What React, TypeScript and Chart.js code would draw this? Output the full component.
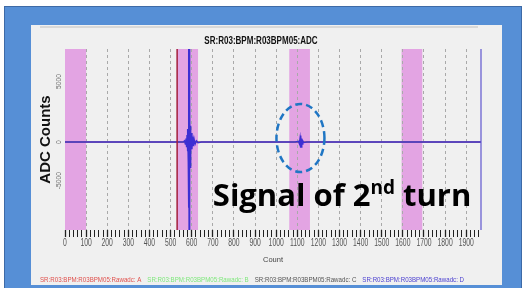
import { useEffect, useRef } from 'react';
import { Chart, registerables } from 'chart.js';

Chart.register(...registerables);

const SANS = "'Liberation Sans', Arial, sans-serif";
const NOTE_FONT = "'Open Sans', 'Liberation Sans', sans-serif";

// ---- data ----
const chartTitle = 'SR:R03:BPM:R03BPM05:ADC';
const xAxisTitle = 'Count';
const yAxisTitle = 'ADC Counts';
const xRange = [0, 1970];
const yRange = [-8700, 9200];
const xLabelStep = 100;
const yLabelValues = [5000, 0, -5000];

const seriesNames = [
  'SR:R03:BPM:R03BPM05:Rawadc: A',
  'SR:R03:BPM:R03BPM05:Rawadc: B',
  'SR:R03:BPM:R03BPM05:Rawadc: C',
  'SR:R03:BPM:R03BPM05:Rawadc: D',
];
const seriesColors = ['#e0504c', '#86ec84', '#5a5a5a', '#3d2fd3'];
const legendColors = ['#e0504c', '#7fe87c', '#555555', '#4a3fd0'];

const rawAx = [0, 1970];
const rawAy = [0, 0];
const rawBx = [0, 1970];
const rawBy = [0, 0];
const rawCx = [0, 1970];
const rawCy = [0, 0];
const rawDx = [0, 500, 560, 566, 570, 573, 576, 578, 580, 582, 584, 585, 586, 587, 588, 589, 590, 591, 592, 594, 596, 598, 601, 604, 607, 611, 616, 622, 630, 645, 1090, 1106, 1110, 1113, 1115, 1117, 1119, 1121, 1123, 1126, 1130, 1145, 1970];
const rawDy = [0, 0, 0, 120, -200, 350, -500, 700, -900, 1300, -2000, 3500, -6500, 9800, -9800, 9600, -7000, 4200, -2500, 1600, -1200, 900, -700, 550, -400, 300, -200, 120, -60, 0, 0, 60, -150, 320, -550, 650, -500, 350, -200, 100, -40, 0, 0];

const gateWindows = [
  [0, 100],
  [530, 630],
  [1062, 1160],
  [1594, 1692],
];
const triggerMarks = [531];
const highlight = { x: 1115, y: 400 };
const noteAnchor = { x: 700, y: -6300 };
const noteMain = 'Signal of 2';
const noteSup = 'nd';
const noteTail = ' turn';

const seriesX = [rawAx, rawBx, rawCx, rawDx];
const seriesY = [rawAy, rawBy, rawCy, rawDy];

function condensedText(ctx: CanvasRenderingContext2D, text: string, x: number, y: number, sx: number) {
  ctx.save();
  ctx.translate(x, y);
  ctx.scale(sx, 1);
  ctx.fillText(text, 0, 0);
  ctx.restore();
  return ctx.measureText(text).width * sx;
}

const overlayPlugin = {
  id: 'overlay',
  beforeDraw(chart: any) {
    const { ctx, chartArea: a, scales } = chart;
    const x = scales.x;
    ctx.save();
    ctx.fillStyle = '#e3a4e3';
    for (const [s, e] of gateWindows) {
      const x0 = x.getPixelForValue(s);
      const x1 = x.getPixelForValue(e);
      ctx.fillRect(x0, a.top, x1 - x0, a.bottom - a.top);
    }
    ctx.restore();
  },
  afterDatasetsDraw(chart: any) {
    const { ctx, chartArea: a, scales } = chart;
    const x = scales.x;
    const y = scales.y;
    ctx.save();
    ctx.strokeStyle = '#a3203c';
    ctx.lineWidth = 1.5;
    for (const t of triggerMarks) {
      const px = x.getPixelForValue(t);
      ctx.beginPath();
      ctx.moveTo(px, a.top);
      ctx.lineTo(px, a.bottom);
      ctx.stroke();
    }
    ctx.strokeStyle = '#5f56cf';
    ctx.lineWidth = 1.2;
    ctx.beginPath();
    ctx.moveTo(a.right, a.top);
    ctx.lineTo(a.right, a.bottom);
    ctx.stroke();

    // y tick labels (rotated)
    ctx.fillStyle = '#666';
    ctx.font = `6.8px ${SANS}`;
    ctx.textAlign = 'center';
    ctx.textBaseline = 'middle';
    for (const v of yLabelValues) {
      const py = y.getPixelForValue(v);
      const t = String(v);
      const w = ctx.measureText(t).width;
      ctx.save();
      ctx.translate(a.left - 5.5, py - Math.max(0, w - 4) * 0.9);
      ctx.rotate(-Math.PI / 2);
      ctx.fillText(t, 0, 0);
      ctx.restore();
    }

    // x tick labels (condensed)
    ctx.fillStyle = '#555';
    ctx.font = `10px ${SANS}`;
    ctx.textAlign = 'left';
    ctx.textBaseline = 'middle';
    for (const tk of x.ticks) {
      if (tk.value % xLabelStep !== 0) continue;
      const t = String(tk.value);
      const w = ctx.measureText(t).width * 0.68;
      condensedText(ctx, t, x.getPixelForValue(tk.value) - w / 2, a.bottom + 13, 0.68);
    }
    ctx.restore();
  },
  afterDraw(chart: any) {
    const { ctx, chartArea: a, scales } = chart;
    const x = scales.x;
    const y = scales.y;
    ctx.save();
    // chart title (condensed bold)
    ctx.fillStyle = '#111';
    ctx.font = `bold 11px ${SANS}`;
    ctx.textAlign = 'left';
    ctx.textBaseline = 'middle';
    const tw = ctx.measureText(chartTitle).width * 0.73;
    condensedText(ctx, chartTitle, (a.left + a.right) / 2 - 12 - tw / 2, a.top - 8, 0.73);

    // highlight ellipse
    ctx.strokeStyle = '#1f76c4';
    ctx.lineWidth = 2.5;
    ctx.setLineDash([7, 4]);
    ctx.beginPath();
    ctx.ellipse(x.getPixelForValue(highlight.x), y.getPixelForValue(highlight.y), 24, 34, 0, 0, Math.PI * 2);
    ctx.stroke();
    ctx.setLineDash([]);

    // annotation text
    const ax = x.getPixelForValue(noteAnchor.x);
    const ay = y.getPixelForValue(noteAnchor.y);
    ctx.fillStyle = '#000';
    ctx.textAlign = 'left';
    ctx.textBaseline = 'alphabetic';
    ctx.font = `bold 31px ${NOTE_FONT}`;
    ctx.fillText(noteMain, ax, ay);
    let cx = ax + ctx.measureText(noteMain).width;
    ctx.font = `bold 19px ${NOTE_FONT}`;
    ctx.fillText(noteSup, cx, ay - 12);
    cx += ctx.measureText(noteSup).width;
    ctx.font = `bold 31px ${NOTE_FONT}`;
    ctx.fillText(noteTail, cx, ay);

    // legend (coloured text only, condensed)
    ctx.font = `8px ${SANS}`;
    ctx.textBaseline = 'middle';
    let lx = a.left - 25;
    const ly = chart.height - 8.5;
    chart.data.datasets.forEach((ds: any, i: number) => {
      ctx.fillStyle = legendColors[i];
      lx += condensedText(ctx, ds.label, lx, ly, 0.77) + 6;
    });
    ctx.restore();
  },
};

export default function App() {
  const ref = useRef<HTMLCanvasElement>(null);
  useEffect(() => {
    const datasets = seriesNames.map((name, i) => ({
      label: name,
      data: seriesX[i].map((xv, j) => ({ x: xv, y: seriesY[i][j] })),
      borderColor: seriesColors[i],
      borderWidth: i === 3 ? 1.5 : 1,
      pointRadius: 0,
      order: i === 3 ? 0 : 1,
      tension: 0,
    }));
    const chart = new Chart(ref.current as HTMLCanvasElement, {
      type: 'line',
      data: { datasets },
      options: {
        animation: false,
        responsive: false,
        devicePixelRatio: 1,
        layout: { padding: { left: 41, right: 45, top: 49, bottom: 17 } },
        plugins: {
          legend: { display: false },
          tooltip: { enabled: false },
          title: { display: false },
        },
        scales: {
          x: {
            type: 'linear',
            min: xRange[0],
            max: xRange[1],
            afterFit: (s: any) => {
              s.height = 41;
            },
            ticks: {
              display: false,
              stepSize: 20,
              includeBounds: false,
              autoSkip: false,
              maxRotation: 0,
              minRotation: 0,
            },
            grid: {
              color: (c: any) => (c.tick && c.tick.value % 100 === 0 && c.tick.value !== 0 ? '#a9a9a9' : 'rgba(0,0,0,0)'),
              tickColor: '#222',
              tickLength: 7,
              tickWidth: (c: any) => (c.tick && c.tick.value % 100 === 0 ? 1.3 : 1),
              tickBorderDash: [],
              lineWidth: 1,
            },
            border: { display: false, dash: [3, 3] },
            title: {
              display: true,
              text: xAxisTitle,
              color: '#444',
              font: { family: SANS, size: 7.5 },
              padding: { top: 0, bottom: 6.7 },
            },
          },
          y: {
            type: 'linear',
            min: yRange[0],
            max: yRange[1],
            afterFit: (s: any) => {
              s.width = 24;
            },
            ticks: { display: false, stepSize: 1000, includeBounds: false },
            grid: {
              color: (c: any) => (c.tick && c.tick.value % 5000 === 0 && c.tick.value !== 0 ? '#777' : 'rgba(0,0,0,0)'),
              tickColor: (c: any) => (c.tick && c.tick.value % 1000 === 0 ? '#222' : 'rgba(0,0,0,0)'),
              tickWidth: (c: any) => (c.tick && c.tick.value % 5000 === 0 ? 2 : 1),
              tickLength: 4,
              tickBorderDash: [],
              lineWidth: 1,
            },
            border: { display: false, dash: [2, 2] },
            title: {
              display: true,
              text: yAxisTitle,
              color: '#111',
              font: { family: SANS, size: 15, weight: 'bold' },
              padding: { top: -4, bottom: 0 },
            },
          },
        },
      },
      plugins: [overlayPlugin],
    } as any);
    return () => chart.destroy();
  }, []);

  return (
    <div style={{ position: 'absolute', left: 0, top: 0, width: 526, height: 288, background: '#fff', overflow: 'hidden' }}>
      <div
        style={{
          position: 'absolute',
          left: 4,
          top: 6,
          width: 518,
          height: 284,
          background: '#568fd6',
          border: '1px solid #3e6aa6',
          boxSizing: 'border-box',
        }}
      />
      <div style={{ position: 'absolute', left: 31, top: 25, width: 471, height: 260, background: '#f0f0f0' }} />
      <div style={{ position: 'absolute', left: 40, top: 26, width: 438, height: 2, background: '#d8d8d8' }} />
      <canvas
        ref={ref}
        width={526}
        height={288}
        style={{ position: 'absolute', left: 0, top: 0, width: 526, height: 288 }}
      />
    </div>
  );
}
